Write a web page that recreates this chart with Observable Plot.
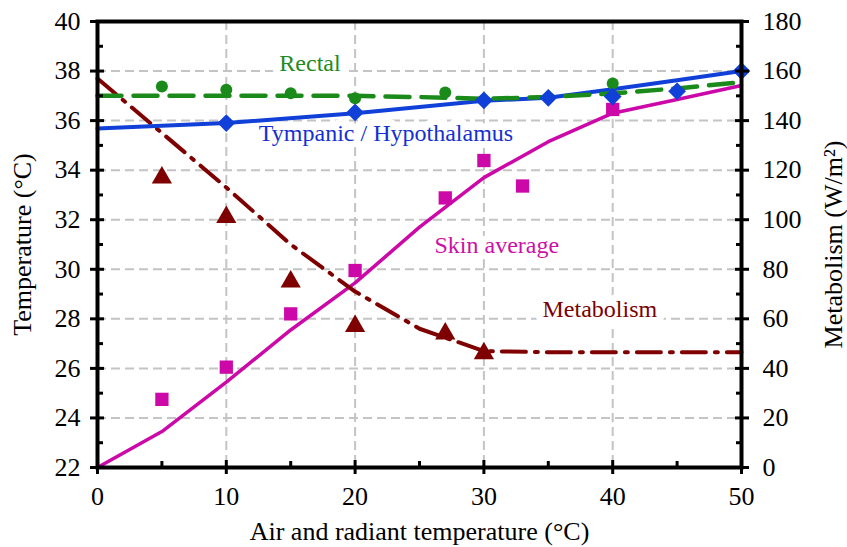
<!DOCTYPE html>
<html><head><meta charset="utf-8">
<script src="https://cdn.jsdelivr.net/npm/d3@7"></script>
<script src="https://cdn.jsdelivr.net/npm/@observablehq/plot@0.6"></script>
<style>body{margin:0;background:#fff;overflow:hidden} svg{display:block}</style>
</head><body><div id="chart"></div>
<script>
// Model curves (air & radiant temperature, °C)
const modelX = [0, 5, 10, 15, 20, 25, 30, 35, 40, 45, 50];
const skinModel = [22.0, 23.45, 25.45, 27.55, 29.45, 31.7, 33.7, 35.15, 36.3, 36.85, 37.42];
const rectalModel = [37.0, 37.0, 37.0, 37.0, 37.0, 36.95, 36.88, 36.95, 37.1, 37.3, 37.55];
const metabolismModel = [157, 135, 113, 90, 71, 56, 47, 46.5, 46.5, 46.5, 46.5]; // W/m2
const tympanicX = [0, 10, 20, 30, 35, 40, 45, 50];
const tympanicModel = [35.68, 35.9, 36.3, 36.8, 36.92, 37.27, 37.63, 38.0];

// Measured points
const rectalPtX = [5, 10, 15, 20, 27, 40];
const rectalPtY = [37.38, 37.25, 37.1, 36.9, 37.13, 37.5];
const tympanicPtX = [10, 20, 30, 35, 40, 45, 50];
const tympanicPtY = [35.9, 36.33, 36.82, 36.92, 36.97, 37.18, 38.0];
const skinPtX = [5, 10, 15, 20, 27, 30, 33, 40];
const skinPtY = [24.75, 26.05, 28.2, 29.95, 32.88, 34.39, 33.36, 36.45];
const metabPtX = [5, 10, 15, 20, 27, 30];
const metabPtY = [117, 101, 75, 57, 54, 46]; // W/m2

// Axis ticks
const xTicks = [0, 10, 20, 30, 40, 50];
const xMinor = [5, 15, 25, 35, 45];
const yTicks = [22, 24, 26, 28, 30, 32, 34, 36, 38, 40];
const yMinor = [23, 25, 27, 29, 31, 33, 35, 37, 39];
const metabTicks = [0, 20, 40, 60, 80, 100, 120, 140, 160, 180];
const metabMinor = [10, 30, 50, 70, 90, 110, 130, 150, 170];

// Annotations
const labelText = ["Rectal", "Tympanic / Hypothalamus", "Skin average", "Metabolism"];
const labelX = [16.5, 22.4, 31.0, 39.0];
const labelY = [38.3, 35.5, 30.95, 28.4];
const labelColor = ["#218a21", "#1530d0", "#cc10a8", "#7a0000"];

const toTemp = m => 22 + m / 10;          // right axis -> left axis mapping
const zip = (xs, ys) => xs.map((x, i) => ({x, y: ys[i]}));

const GREEN = "#1a8a1a", BLUE = "#1040d8", MAGENTA = "#cc08a8", DRED = "#7f0000";
const labels = labelText.map((t, i) => ({t, x: labelX[i], y: labelY[i], c: labelColor[i]}));
const gridStyle = {stroke: "#c4c4c4", strokeOpacity: 1, strokeWidth: 2, strokeDasharray: "9,5"};
const tickStyle = {stroke: "black", strokeWidth: 3, strokeOpacity: 1};

const chart = Plot.plot({
  width: 847, height: 547,
  marginLeft: 97, marginRight: 106, marginTop: 21, marginBottom: 80,
  style: {fontFamily: "'Liberation Serif', 'Times New Roman', serif", fontSize: "25px", background: "white", color: "black"},
  x: {domain: [0, 50]},
  y: {domain: [22, 40]},
  marks: [
    Plot.gridX({ticks: [10, 20, 30, 40], ...gridStyle}),
    Plot.gridY({ticks: [24, 26, 28, 30, 32, 34, 36, 38], ...gridStyle}),
    // label knock-outs
    Plot.text(labels, {x: "x", y: "y", text: "t", fill: "white", stroke: "white", strokeWidth: 14, fontSize: 24}),
    Plot.line(zip(modelX, skinModel), {x: "x", y: "y", stroke: MAGENTA, strokeWidth: 3.5}),
    Plot.line(zip(modelX, metabolismModel), {x: "x", y: d => toTemp(d.y), stroke: DRED, strokeWidth: 4, strokeDasharray: "24,9,3,9"}),
    Plot.line(zip(tympanicX, tympanicModel), {x: "x", y: "y", stroke: BLUE, strokeWidth: 4}),
    Plot.line(zip(modelX, rectalModel), {x: "x", y: "y", stroke: GREEN, strokeWidth: 4.5, strokeDasharray: "24,12"}),
    Plot.dot(zip(skinPtX, skinPtY), {x: "x", y: "y", symbol: "square", r: 7.5, fill: MAGENTA}),
    Plot.dot(zip(metabPtX, metabPtY), {x: "x", y: d => toTemp(d.y), symbol: "triangle", r: 7.5, fill: DRED}),
    Plot.dot(zip(rectalPtX, rectalPtY), {x: "x", y: "y", symbol: "circle", r: 6, fill: GREEN}),
    Plot.dot(zip(tympanicPtX, tympanicPtY), {x: "x", y: "y", symbol: "diamond2", r: 8, fill: BLUE}),
    Plot.text(labels, {x: "x", y: "y", text: "t", fill: "c", fontSize: 24}),
    // bottom axis
    Plot.axisX({ticks: xTicks, tickSize: 7, tickPadding: 12, ...tickStyle, fontSize: 26, label: "Air and radiant temperature (°C)", labelArrow: "none", labelAnchor: "center", labelOffset: 72}),
    Plot.axisX({ticks: xTicks, tickSize: -7, ...tickStyle, fill: "none", label: null}),
    Plot.axisX({ticks: xMinor, tickSize: -6, ...tickStyle, fill: "none", label: null}),
    // left axis
    Plot.axisY({ticks: yTicks, tickSize: 7, tickPadding: 10, ...tickStyle, fontSize: 26, label: "Temperature (°C)", labelArrow: "none", labelAnchor: "center", labelOffset: 85}),
    Plot.axisY({ticks: yTicks, tickSize: -7, ...tickStyle, fill: "none", label: null}),
    Plot.axisY({ticks: yMinor, tickSize: -6, ...tickStyle, fill: "none", label: null}),
    // right axis (metabolism)
    Plot.axisY({anchor: "right", ticks: metabTicks.map(toTemp), tickFormat: d => Math.round((d - 22) * 10), tickSize: 7, tickPadding: 14, ...tickStyle, fontSize: 26, label: "Metabolism (W/m²)", labelArrow: "none", labelAnchor: "center", labelOffset: 100}),
    Plot.axisY({anchor: "right", ticks: metabTicks.map(toTemp), tickSize: -7, ...tickStyle, fill: "none", label: null}),
    Plot.axisY({anchor: "right", ticks: metabMinor.map(toTemp), tickSize: -6, ...tickStyle, fill: "none", label: null}),
    Plot.frame({stroke: "black", strokeWidth: 4})
  ]
});
document.getElementById("chart").append(chart);
</script>
</body></html>
